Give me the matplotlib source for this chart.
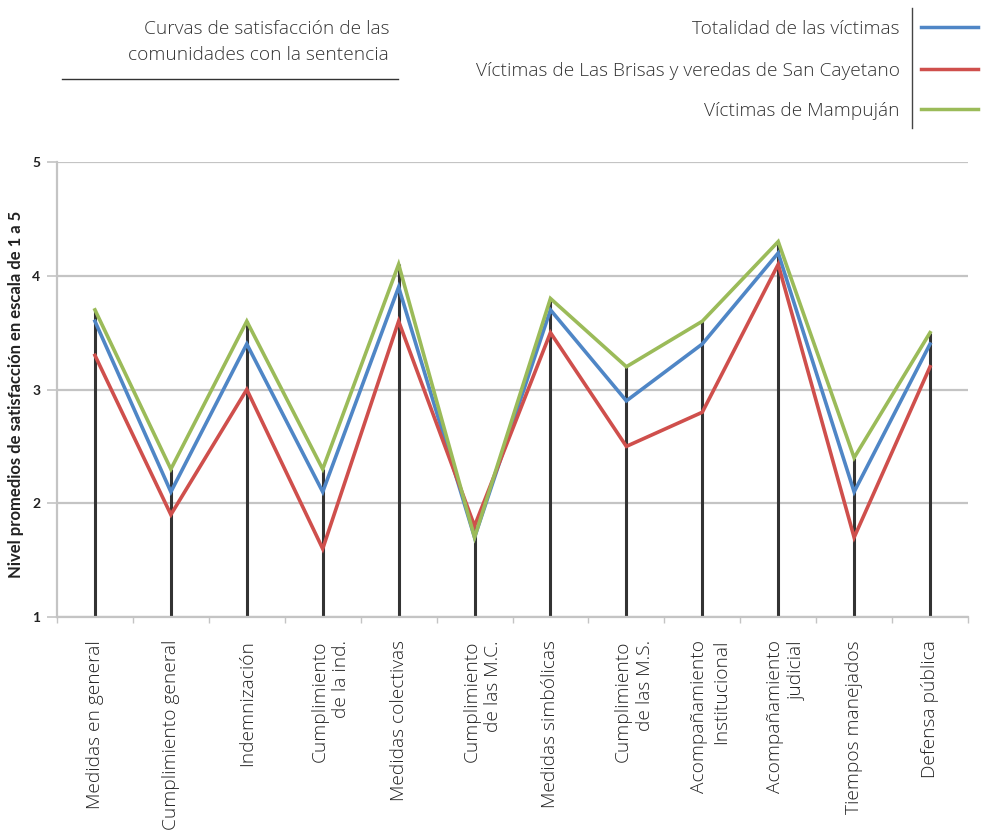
import matplotlib
matplotlib.use("Agg")
import matplotlib.pyplot as plt
import matplotlib.transforms as mtransforms
from matplotlib.lines import Line2D
import numpy as np

# categorias (eje x)
categorias = ["Medidas en general", "Cumplimiento general", "Indemnización",
              "Cumplimiento\nde la ind.", "Medidas colectivas", "Cumplimiento\nde las M.C.",
              "Medidas simbólicas", "Cumplimiento\nde las M.S.", "Acompañamiento\nInstitucional",
              "Acompañamiento\njudicial", "Tiempos manejados", "Defensa pública"]

# niveles promedio de satisfaccion (1 a 5)
totalidad = [3.6, 2.1, 3.4, 2.1, 3.9, 1.7, 3.7, 2.9, 3.4, 4.2, 2.1, 3.4]
brisas = [3.3, 1.9, 3.0, 1.6, 3.6, 1.8, 3.5, 2.5, 2.8, 4.1, 1.7, 3.2]
mampujan = [3.7, 2.3, 3.6, 2.3, 4.1, 1.7, 3.8, 3.2, 3.6, 4.3, 2.4, 3.5]

series_nombres = ["Totalidad de las víctimas",
                  "Víctimas de Las Brisas y veredas de San Cayetano",
                  "Víctimas de Mampuján"]
colores = ["#4F86C6", "#CF4F4C", "#9BBB59"]

titulo = "Curvas de satisfacción de las\ncomunidades con la sentencia"
ylabel = "Nivel promedios de satisfacción en escala de 1 a 5"

fuente = "Open Sans"
gris = "#c4c4c4"

fig = plt.figure(figsize=(9.81, 8.4), dpi=100)
ax = fig.add_axes([57/981, 1 - 617/840, 911/981, 455/840])

x = np.arange(len(categorias))
datos = [totalidad, brisas, mampujan]

# lineas verticales negras hasta el maximo
tope = np.max(np.array(datos), axis=0)
ax.vlines(x, 1, tope, color="#333333", lw=2.2, zorder=2)

for serie, c in zip(datos, colores):
    ax.plot(x, serie, color=c, lw=2.6, zorder=3, solid_joinstyle="miter")

ax.set_xlim(-0.5, len(categorias) - 0.5)
ax.set_ylim(1, 5)
ax.set_yticks([1, 2, 3, 4, 5])
ax.yaxis.grid(True, color=gris, lw=1.6, zorder=0)
ax.set_axisbelow(True)
for s in ["top", "right"]:
    ax.spines[s].set_visible(False)
ax.spines["left"].set_color(gris)
ax.spines["left"].set_linewidth(1.6)
ax.spines["bottom"].set_color(gris)
ax.spines["bottom"].set_linewidth(1.6)

ax.tick_params(axis="y", length=7, width=1.2, color=gris, pad=5)
for t in ax.get_yticklabels():
    t.set_fontweight("bold")
    t.set_fontsize(10)
    t.set_family("Lato")
    t.set_color("#222222")

ax.set_xticks(np.arange(-0.5, len(categorias), 1.0))
ax.set_xticklabels([])
ax.tick_params(axis="x", length=4, width=1, color=gris)

trans = mtransforms.blended_transform_factory(ax.transData, fig.transFigure)
for xi, lab in zip(x, categorias):
    ax.text(xi + (0.1 if "\n" in lab else 0.0), 1 - 640/840, lab, transform=trans,
            rotation=90, ha="center", va="top",
            multialignment="right", fontsize=13.8, family=fuente, fontweight="light",
            color="#222222", linespacing=1.25)

fig.text(16/981, 1 - 394/840, ylabel, rotation=90, ha="center", va="center",
         fontsize=12, fontweight="bold", family="Lato", color="#222222")

# titulo con subrayado
fig.text(389/981, 1 - 42/840, titulo, ha="right", va="center", fontsize=13.8,
         family=fuente, fontweight="light", color="#333333", linespacing=1.6,
         multialignment="right")
fig.add_artist(Line2D([62/981, 398/981], [1 - 79/840, 1 - 79/840],
                      transform=fig.transFigure, color="#333333", lw=1.0))

# leyenda manual
ys = [29, 71, 111]
for nombre, c, yy in zip(series_nombres, colores, ys):
    fig.text(900/981, 1 - yy/840, nombre, ha="right", va="center", fontsize=13.8,
             family=fuente, fontweight="light", color="#333333")
    fig.add_artist(Line2D([921/981, 978/981], [1 - (yy - 2)/840, 1 - (yy - 2)/840],
                          transform=fig.transFigure, color=c, lw=2.5))
fig.add_artist(Line2D([912/981, 912/981], [1 - 8/840, 1 - 128/840],
                      transform=fig.transFigure, color="#444444", lw=1.0))

fig.savefig("out.png", dpi=100)
